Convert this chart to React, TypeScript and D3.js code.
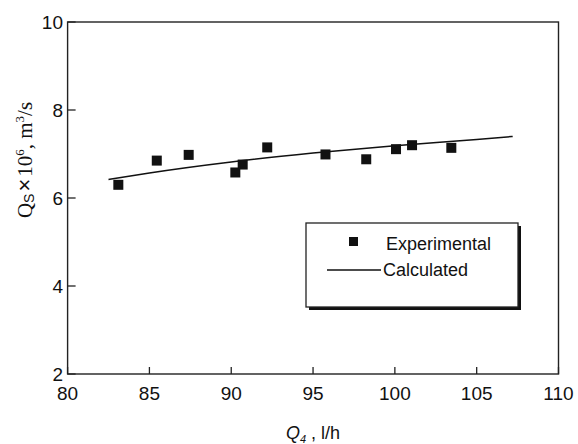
import React from "react";
import * as d3 from "d3";

const expX = [83.1, 85.45, 87.4, 90.25, 90.7, 92.2, 95.76, 98.25, 100.07, 101.05, 103.45];
const expY = [6.3, 6.85, 6.98, 6.58, 6.76, 7.15, 6.99, 6.88, 7.11, 7.2, 7.14];
const calcX = [82.5, 85, 90, 95, 100, 105, 107.2];
const calcY = [6.42, 6.57, 6.82, 7.02, 7.19, 7.33, 7.4];
const xTicks = [80, 85, 90, 95, 100, 105, 110];
const yTicks = [2, 4, 6, 8, 10];

export default function App() {
  const W = 578, H = 444;
  const L = 67.6, R = 558.5, T = 22, B = 374;
  const x = d3.scaleLinear().domain([80, 110]).range([L, R]);
  const y = d3.scaleLinear().domain([2, 10]).range([B, T]);
  const line = d3.line<number>().x((_, i) => x(calcX[i])).y((d) => y(d)).curve(d3.curveMonotoneX);
  const sans = "'Liberation Sans', Arial, sans-serif";
  const serif = "'Liberation Serif', 'Times New Roman', serif";
  const ms = 10;
  return (
    <svg width={W} height={H} style={{ position: "absolute", left: 0, top: 0 }}>
      <rect x={0} y={0} width={W} height={H} fill="#fff" />
      <rect x={L} y={T} width={R - L} height={B - T} fill="none" stroke="#222" strokeWidth={1.4} />
      {xTicks.map((t) => (
        <g key={"x" + t}>
          <line x1={x(t)} x2={x(t)} y1={B} y2={B - 7} stroke="#222" strokeWidth={1.3} />
          <text x={x(t)} y={400} fontFamily={sans} fontSize={19} textAnchor="middle" fill="#111">{t}</text>
        </g>
      ))}
      {yTicks.map((t) => (
        <g key={"y" + t}>
          <line x1={L} x2={L + 8} y1={y(t)} y2={y(t)} stroke="#222" strokeWidth={1.3} />
          <text x={63} y={y(t) + 7} fontFamily={sans} fontSize={19} textAnchor="end" fill="#111">{t}</text>
        </g>
      ))}
      <path d={line(calcY) || ""} fill="none" stroke="#111" strokeWidth={1.5} />
      {expX.map((v, i) => (
        <rect key={"p" + i} x={x(v) - ms / 2} y={y(expY[i]) - ms / 2} width={ms} height={ms} fill="#111" />
      ))}
      {/* legend */}
      <rect x={309} y={226} width={212} height={84} fill="#111" />
      <rect x={306} y={223} width={212} height={84} fill="#fff" stroke="#222" strokeWidth={1.3} />
      <rect x={349} y={237} width={9} height={9} fill="#111" />
      <text x={386} y={250} fontFamily={sans} fontSize={18} fill="#111">Experimental</text>
      <line x1={327} x2={381} y1={270} y2={270} stroke="#111" strokeWidth={1.3} />
      <text x={383} y={276} fontFamily={sans} fontSize={18} fill="#111">Calculated</text>
      {/* axis titles */}
      <text x={313} y={439} fontFamily={sans} fontSize={18} textAnchor="middle" fill="#111">
        <tspan fontStyle="italic">Q</tspan>
        <tspan fontStyle="italic" fontSize={11} dy={4}>4</tspan>
        <tspan dy={-4}> , l/h</tspan>
      </text>
      <text transform="translate(32,160) rotate(-90)" fontFamily={serif} fontSize={21} textAnchor="middle" fill="#111">
        <tspan>Q</tspan>
        <tspan fontSize={14} fontFamily={sans} dy={2}>S</tspan>
        <tspan dy={-2} dx={2} fontFamily={sans} fontSize={22}>×</tspan>
        <tspan dx={2}>10</tspan>
        <tspan fontSize={13} dy={-8}>6</tspan>
        <tspan dy={8}>, m</tspan>
        <tspan fontSize={13} dy={-8}>3</tspan>
        <tspan dy={8}>/s</tspan>
      </text>
    </svg>
  );
}
